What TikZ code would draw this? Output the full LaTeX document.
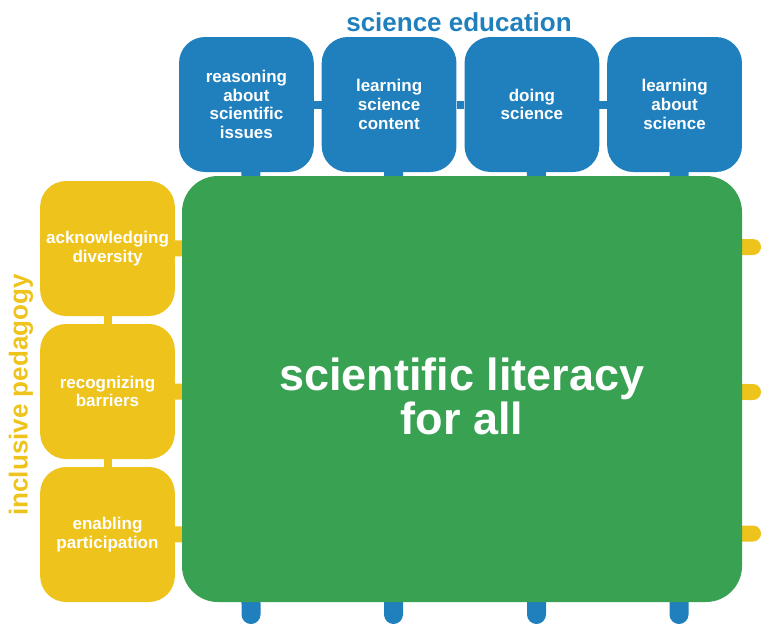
\documentclass[tikz,border=0pt]{standalone}
\usepackage{fontspec}
\setmainfont{Liberation Sans}
\usetikzlibrary{backgrounds}

\definecolor{edublue}{HTML}{2080BD}
\definecolor{litgreen}{HTML}{38A152}
\definecolor{pedyellow}{HTML}{EEC31C}

\begin{document}
\begin{tikzpicture}[x=1pt, y=-1pt,
    topic/.style={rectangle, rounded corners=26pt, minimum width=134.75pt,
      minimum height=135pt, text width=126pt, inner sep=0pt, align=center,
      text=white, font=\bfseries\fontsize{17}{18.7}\selectfont},
    edu/.style={topic, fill=edublue},
    ped/.style={topic, fill=pedyellow},
    core/.style={rectangle, rounded corners=36pt, fill=litgreen,
      minimum width=560pt, minimum height=426pt, align=center, text=white,
      font=\bfseries\fontsize{45}{44}\selectfont},
    heading/.style={font=\bfseries\fontsize{26}{28}\selectfont},
    eduline/.style={draw=edublue, line width=19pt, line cap=round},
    pedline/.style={draw=pedyellow, line width=16pt, line cap=round},
    edulink/.style={draw=edublue, line width=8pt},
    pedlink/.style={draw=pedyellow, line width=8pt}]
  \useasboundingbox (0,0) rectangle (761,624);

  \node[heading, text=edublue] (edutitle) at (459, 22) {science education};
  \node[heading, text=pedyellow, rotate=90] (pedtitle) at (21, 395) {inclusive pedagogy};

  \node[edu] (reasoning) at (246.4, 104.5) {reasoning\\about\\scientific\\issues};
  \node[edu] (content) at (389.1, 104.5) {learning\\science\\content};
  \node[edu] (doing) at (531.9, 104.5) {doing\\science};
  \node[edu] (about) at (674.6, 104.5) {learning\\about\\science};

  \node[ped] (diversity) at (107.5, 248.5) {acknowledging\\diversity};
  \node[ped] (barriers) at (107.5, 391.5) {recognizing\\barriers};
  \node[ped] (participation) at (107.5, 534.5) {enabling\\participation};

  \node[core] (literacy) at (462, 389) {};
  \node[core, fill=none, minimum width=0pt, minimum height=0pt] (literacytext) at (462, 396) {scientific literacy\\for all};

  \coordinate (e1) at (251, 614.5);
  \coordinate (e2) at (393.5, 614.5);
  \coordinate (e3) at (536.5, 614.5);
  \coordinate (e4) at (679, 614.5);
  \coordinate (p1) at (753, 247);
  \coordinate (p2) at (753, 392);
  \coordinate (p3) at (753, 533.5);

  \begin{scope}[on background layer]
    \draw[eduline] ([xshift=4.5pt]reasoning.center) -- (e1);
    \draw[eduline] ([xshift=4.5pt]content.center) -- (e2);
    \draw[eduline] ([xshift=4.5pt]doing.center) -- (e3);
    \draw[eduline] ([xshift=4.5pt]about.center) -- (e4);
    \draw[pedline] (diversity.center) -- (p1);
    \draw[pedline] (barriers.center) -- (p2);
    \draw[pedline] (participation.center) -- (p3);
    \draw[edulink] (reasoning) -- (content);
    \draw[edulink] (content) -- (doing);
    \draw[edulink] (doing) -- (about);
    \draw[pedlink] (diversity) -- (barriers);
    \draw[pedlink] (barriers) -- (participation);
  \end{scope}
\end{tikzpicture}
\end{document}
